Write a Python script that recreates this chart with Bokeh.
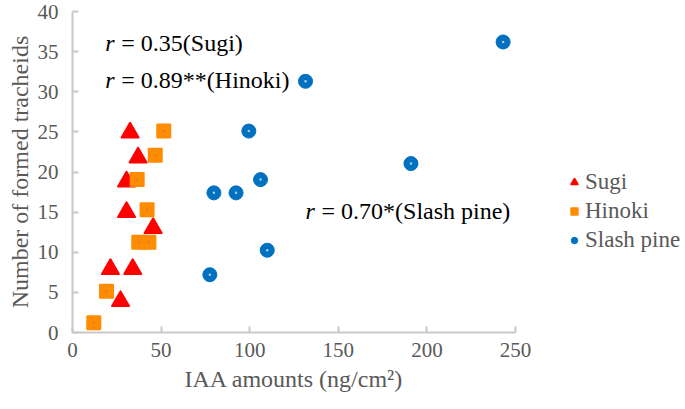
from bokeh.plotting import figure
from bokeh.models import Range1d, Legend, LegendItem, Label
from bokeh.embed import file_html
from bokeh.resources import INLINE

# Data
sugi_x = [32.5, 37, 30.5, 30.5, 45.5, 21.4, 34, 27.1]
sugi_y = [24.9, 21.8, 18.8, 15.0, 13.0, 7.9, 7.9, 3.9]
hinoki_x = [51.5, 46.7, 36.5, 42.1, 37.4, 43.1, 19.2, 12.0]
hinoki_y = [25.1, 22.1, 19.05, 15.3, 11.25, 11.25, 5.15, 1.2]
pine_x = [243, 131.5, 191, 99.5, 106.1, 79.8, 92.3, 109.9, 77.5]
pine_y = [36.2, 31.3, 21.05, 25.1, 19.05, 17.4, 17.4, 10.25, 7.2]
x_ticks = [0, 50, 100, 150, 200, 250]
y_ticks = [0, 5, 10, 15, 20, 25, 30, 35, 40]
series_names = ["Sugi", "Hinoki", "Slash pine"]
annotations = [("r", "\u00a0= 0.35(Sugi)"), ("r", "\u00a0= 0.89**(Hinoki)"), ("r", "\u00a0= 0.70*(Slash pine)")]

FONT = "Liberation Serif"
GRAY = "#595959"
AXIS = "#c8c8c8"

p = figure(output_backend="svg", toolbar_location=None,
           x_range=Range1d(0, 250), y_range=Range1d(0, 40),
           min_border_left=72, min_border_right=156, min_border_top=11, min_border_bottom=62)
p.frame_width = 443
p.frame_height = 321
p.outline_line_color = None
p.xgrid.visible = False
p.ygrid.visible = False

for ax in (p.xaxis[0], p.yaxis[0]):
    ax.axis_line_color = AXIS
    ax.axis_line_width = 2
    ax.major_tick_line_color = AXIS
    ax.major_tick_line_width = 2
    ax.major_tick_in = 6
    ax.major_tick_out = 0
    ax.minor_tick_line_color = None
    ax.major_label_text_font = FONT
    ax.major_label_text_font_size = "21px"
    ax.major_label_text_color = GRAY
    ax.axis_label_text_font = FONT
    ax.axis_label_text_font_size = "24px"
    ax.axis_label_text_color = GRAY
    ax.axis_label_text_font_style = "normal"

p.xaxis.ticker = x_ticks
p.yaxis.ticker = y_ticks
p.xaxis.axis_label = "IAA amounts (ng/cm²)"
p.yaxis.axis_label = "Number of formed tracheids"
p.xaxis.major_label_standoff = 10
p.xaxis.axis_label_standoff = 6
p.yaxis.major_label_standoff = 14
p.yaxis.axis_label_standoff = 2

r1 = p.scatter(sugi_x, sugi_y, marker="triangle", size=17, fill_color="#ff0000", line_color="#ff0000", line_join="round", line_width=2)
r2 = p.scatter(hinoki_x, hinoki_y, marker="square", size=13, fill_color="#ff8c00", line_color="#ff8c00", line_join="round", line_width=2)
r3 = p.scatter(pine_x, pine_y, marker="circle", size=14, fill_color="#0070c0", line_color="#0070c0")
p.scatter(hinoki_x, hinoki_y, marker="circle", size=2, fill_color="#c87850", line_color=None)
p.scatter(pine_x, pine_y, marker="circle", size=2.5, fill_color="#b0c8e0", line_color=None)

legend = Legend(items=[LegendItem(label=series_names[0], renderers=[r1]),
                       LegendItem(label=series_names[1], renderers=[r2]),
                       LegendItem(label=series_names[2], renderers=[r3])],
                location=(51, 79), orientation="vertical",
                label_text_font=FONT, label_text_font_size="23px", label_text_color=GRAY,
                glyph_width=16, glyph_height=16, label_height=23, spacing=3,
                label_standoff=3, padding=5, margin=0,
                border_line_color=None, background_fill_alpha=0)
p.add_layout(legend, "right")

ann_pos = [(18.5, 36.1), (18.5, 31.5), (131.5, 15.1)]
for (it, rest), (ax_, ay_) in zip(annotations, ann_pos):
    p.add_layout(Label(x=ax_, y=ay_, text=it, text_font=FONT, text_font_style="italic",
                       text_font_size="24px", text_color="#000000", text_baseline="middle"))
    p.add_layout(Label(x=ax_, y=ay_, x_offset=10, text=rest, text_font=FONT,
                       text_font_size="24px", text_color="#000000", text_baseline="middle"))

open("out.html", "w").write(file_html(p, INLINE))
